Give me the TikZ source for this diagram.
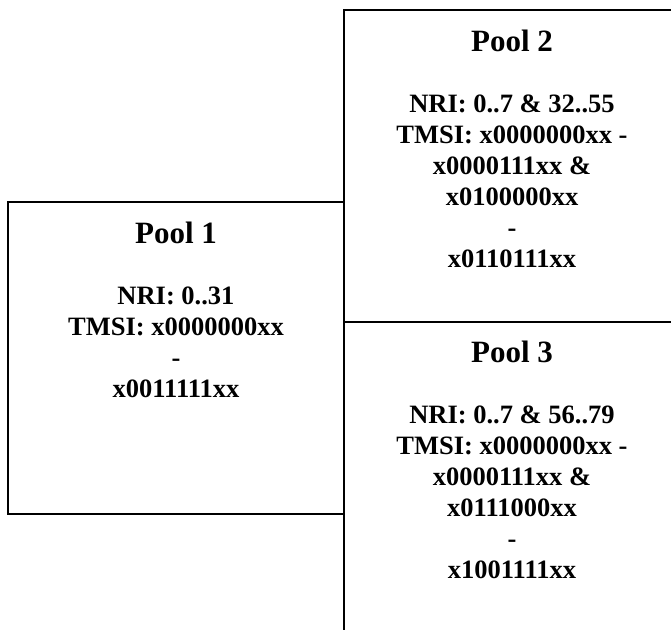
\documentclass[tikz,border=0pt]{standalone}
\usepackage{fontspec}
\setmainfont{Liberation Serif}
\begin{document}
\begin{tikzpicture}[x=1pt,y=-1pt,
  pool/.style={draw=black, line width=1.6pt, minimum width=336pt, minimum height=312pt, inner sep=0pt, fill=none},
  pooltext/.style={anchor=base, align=center, inner sep=0pt, font=\bfseries\fontsize{26.5}{31}\selectfont}]
\useasboundingbox (0,0) rectangle (671,629);
\clip (0,0) rectangle (671,629);
\node[pool] (p1) at (176,358) {};
\node[pool] (p2) at (512,166) {};
\node[pool] (p3) at (512,478) {};
% anchor=base of a multi-line node is the baseline of its last line
\node[pooltext] (t1) at (176,397) {{\fontsize{31}{31}\selectfont Pool 1}\\[30pt]
NRI: 0..31\\
TMSI: x0000000xx\\
-\\
x0011111xx};
\node[pooltext] (t2) at (512,267) {{\fontsize{31}{31}\selectfont Pool 2}\\[30pt]
NRI: 0..7 \& 32..55\\
TMSI: x0000000xx -\\
x0000111xx \&\\
x0100000xx\\
-\\
x0110111xx};
\node[pooltext] (t3) at (512,578) {{\fontsize{31}{31}\selectfont Pool 3}\\[30pt]
NRI: 0..7 \& 56..79\\
TMSI: x0000000xx -\\
x0000111xx \&\\
x0111000xx\\
-\\
x1001111xx};
\end{tikzpicture}
\end{document}
